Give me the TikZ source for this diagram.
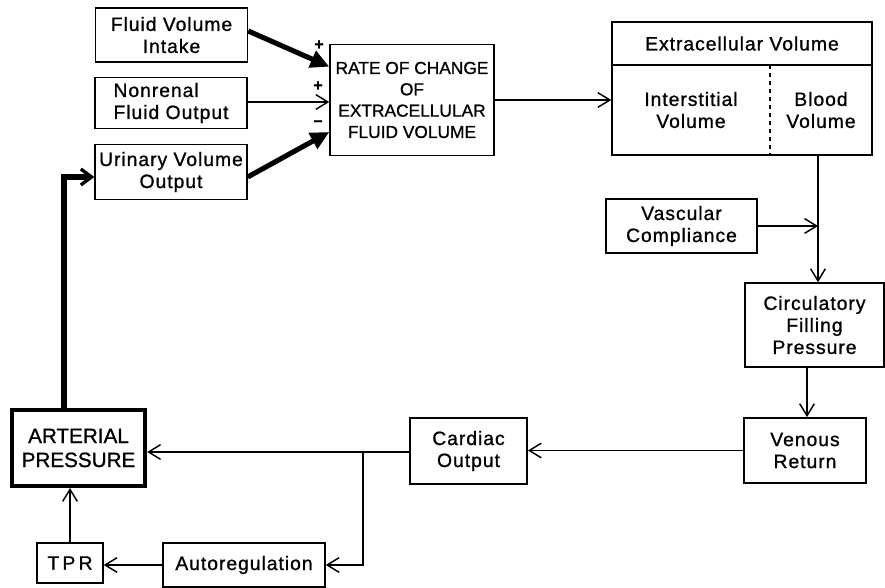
\documentclass[tikz,border=0pt]{standalone}
\usepackage{fontspec}
\setmainfont[LetterSpace=5, FakeBold=1]{Liberation Sans}
\newfontfamily\capsfont[FakeBold=1]{Liberation Sans}
\usetikzlibrary{arrows.meta}
\tikzset{
  lbl/.style={align=center, font=\fontsize{14.5}{16.5}\selectfont},
  blk/.style={draw, line width=1.1pt, align=center, inner sep=2pt, font=\fontsize{14.5}{16.5}\selectfont},
  flow/.style={line width=1.1pt, -{Straight Barb[length=9pt,width=11pt,line width=1.1pt]}},
  heavy/.style={line width=3.8pt, -{Triangle[length=14pt,width=13pt]}},
  heavybarb/.style={line width=3.8pt, line cap=butt, -{Straight Barb[length=8pt,width=12pt,line width=2.5pt]}},
  sign/.style={font=\fontsize{12}{12}\selectfont\bfseries, inner sep=0pt}
}
\begin{document}
\begin{tikzpicture}[x=0.75pt, y=-0.75pt]
  \useasboundingbox (0,0) rectangle (885,588);
  % inputs to the rate of change
  \node[blk, minimum width=114pt, minimum height=40.5pt] (fvi) at (171.5,35) {Fluid Volume\\Intake};
  \node[blk, minimum width=114pt, minimum height=38pt, align=left] (nfo) at (171,103) {Nonrenal\\Fluid Output};
  \node[blk, minimum width=114pt, minimum height=41pt] (uvo) at (171,172) {Urinary Volume\\Output};
  \node[blk, minimum width=123pt, minimum height=83pt, font=\capsfont\fontsize{13}{16}\selectfont] (roc) at (412,100) {RATE OF CHANGE\\OF\\EXTRACELLULAR\\FLUID VOLUME};
  % extracellular volume
  \node[blk, minimum width=195pt, minimum height=100pt] (ecv) at (742,88.5) {};
  \node[lbl] (ecvh) at (742,43.5) {Extracellular Volume};
  \node[lbl] (ivol) at (691,110) {Interstitial\\Volume};
  \node[lbl] (bvol) at (821,110) {Blood\\Volume};
  \draw[line width=1.1pt] (ecv.west |- 0,65) -- (ecv.east |- 0,65);
  \draw[line width=1.1pt, dashed] (770,65) -- (ecv.south -| 770,0);
  % circulation
  \node[blk, minimum width=113pt, minimum height=40.5pt] (vc) at (681.5,226) {Vascular\\Compliance};
  \node[blk, minimum width=104pt, minimum height=63pt] (cfp) at (814.5,325) {Circulatory\\Filling\\Pressure};
  \node[blk, minimum width=91.5pt, minimum height=49pt] (vr) at (805,450.5) {Venous\\Return};
  \node[blk, minimum width=88pt, minimum height=49.5pt] (co) at (468.5,451) {Cardiac\\Output};
  \node[blk, line width=3pt, minimum width=100pt, minimum height=57pt, font=\capsfont\fontsize{15.5}{18}\selectfont] (ap) at (78.5,448) {ARTERIAL\\PRESSURE};
  \node[blk, minimum width=49.5pt, minimum height=30pt] (tpr) at (70,563) {T\,P\,R};
  \node[blk, minimum width=121.5pt, minimum height=33pt] (ar) at (244,565) {Autoregulation};
  \coordinate (vj) at (818,226);
  \coordinate (fj) at (807,0);
  \coordinate (cj) at (363,452);
  \coordinate (uk) at (64,177);
  % connectors
  \draw[heavy] (fvi.east |- 0,31) -- ([yshift=25pt]roc.west);
  \draw[flow] (nfo.east |- 0,102) -- (roc.west |- 0,102);
  \draw[heavy] (uvo.east |- 0,177) -- ([yshift=-24pt]roc.west);
  \node[sign] (p1) at (319,45) {+};
  \node[sign] (p2) at (318,86) {+};
  \node[sign] (m1) at (318,123) {\textendash};
  \draw[flow] (roc.east) -- (ecv.west |- roc.east);
  \draw[flow] (ecv.south -| vj) -- (cfp.north -| vj);
  \draw[flow] (vc.east) -- (vj);
  \draw[flow] (cfp.south -| fj) -- (vr.north -| fj);
  \draw[flow] (vr.west) -- (co.east |- vr.west);
  \draw[flow] (co.west |- cj) -- (ap.east |- cj);
  \draw[flow] (cj) |- (ar.east);
  \draw[flow] (ar.west) -- (tpr.east |- ar.west);
  \draw[flow] (tpr.north) -- (tpr.north |- ap.south);
  \draw[heavybarb] (ap.north -| uk) -- (uk) -- (uk -| uvo.west);
\end{tikzpicture}
\end{document}
